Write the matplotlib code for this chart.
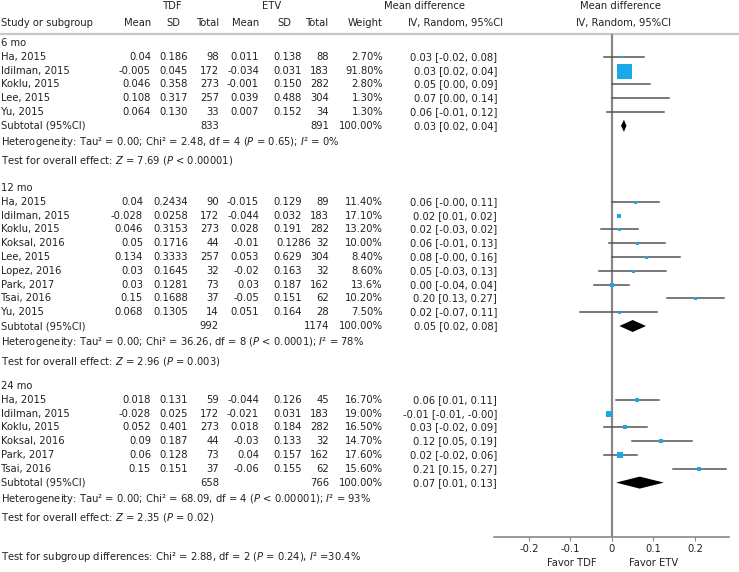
import numpy as np
import matplotlib
matplotlib.use('Agg')
import matplotlib.pyplot as plt

# Datos de la figura

grupos = ['6 mo', '12 mo', '24 mo']

estudios = [
    ['Ha, 2015', 'Idilman, 2015', 'Koklu, 2015', 'Lee, 2015', 'Yu, 2015'],
    ['Ha, 2015', 'Idilman, 2015', 'Koklu, 2015', 'Koksal, 2016', 'Lee, 2015',
     'Lopez, 2016', 'Park, 2017', 'Tsai, 2016', 'Yu, 2015'],
    ['Ha, 2015', 'Idilman, 2015', 'Koklu, 2015', 'Koksal, 2016', 'Park, 2017', 'Tsai, 2016'],
]

tdf_mean = [
    ['0.04', '-0.005', '0.046', '0.108', '0.064'],
    ['0.04', '-0.028', '0.046', '0.05', '0.134', '0.03', '0.03', '0.15', '0.068'],
    ['0.018', '-0.028', '0.052', '0.09', '0.06', '0.15'],
]
tdf_sd = [
    ['0.186', '0.045', '0.358', '0.317', '0.130'],
    ['0.2434', '0.0258', '0.3153', '0.1716', '0.3333', '0.1645', '0.1281', '0.1688', '0.1305'],
    ['0.131', '0.025', '0.401', '0.187', '0.128', '0.151'],
]
tdf_n = [
    [98, 172, 273, 257, 33],
    [90, 172, 273, 44, 257, 32, 73, 37, 14],
    [59, 172, 273, 44, 73, 37],
]
etv_mean = [
    ['0.011', '-0.034', '-0.001', '0.039', '0.007'],
    ['-0.015', '-0.044', '0.028', '-0.01', '0.053', '-0.02', '0.03', '-0.05', '0.051'],
    ['-0.044', '-0.021', '0.018', '-0.03', '0.04', '-0.06'],
]
etv_sd = [
    ['0.138', '0.031', '0.150', '0.488', '0.152'],
    ['0.129', '0.032', '0.191', '0.1286', '0.629', '0.163', '0.187', '0.151', '0.164'],
    ['0.126', '0.031', '0.184', '0.133', '0.157', '0.155'],
]
etv_n = [
    [88, 183, 282, 304, 34],
    [89, 183, 282, 32, 304, 32, 162, 62, 28],
    [45, 183, 282, 32, 162, 62],
]
pesos = [
    ['2.70%', '91.80%', '2.80%', '1.30%', '1.30%'],
    ['11.40%', '17.10%', '13.20%', '10.00%', '8.40%', '8.60%', '13.6%', '10.20%', '7.50%'],
    ['16.70%', '19.00%', '16.50%', '14.70%', '17.60%', '15.60%'],
]
ic_texto = [
    ['0.03 [-0.02, 0.08]', '0.03 [0.02, 0.04]', '0.05 [0.00, 0.09]', '0.07 [0.00, 0.14]', '0.06 [-0.01, 0.12]'],
    ['0.06 [-0.00, 0.11]', '0.02 [0.01, 0.02]', '0.02 [-0.03, 0.02]', '0.06 [-0.01, 0.13]',
     '0.08 [-0.00, 0.16]', '0.05 [-0.03, 0.13]', '0.00 [-0.04, 0.04]', '0.20 [0.13, 0.27]', '0.02 [-0.07, 0.11]'],
    ['0.06 [0.01, 0.11]', '-0.01 [-0.01, -0.00]', '0.03 [-0.02, 0.09]', '0.12 [0.05, 0.19]',
     '0.02 [-0.02, 0.06]', '0.21 [0.15, 0.27]'],
]

# puntos dibujados (estimados del grafico)
est = [
    [0.027, 0.029, 0.05, 0.068, 0.06],
    [0.055, 0.016, 0.018, 0.06, 0.081, 0.051, 0.0, 0.2, 0.016],
    [0.061, -0.008, 0.032, 0.119, 0.019, 0.21],
]
lo = [
    [-0.019, 0.029, 0.001, 0.0, -0.011],
    [0.0, 0.016, -0.027, -0.007, 0.0, -0.031, -0.042, 0.132, -0.077],
    [0.011, -0.008, -0.019, 0.049, -0.019, 0.148],
]
hi = [
    [0.077, 0.029, 0.092, 0.138, 0.125],
    [0.114, 0.016, 0.062, 0.128, 0.163, 0.131, 0.042, 0.269, 0.108],
    [0.113, -0.008, 0.085, 0.192, 0.06, 0.274],
]

sub_tdf = [833, 992, 658]
sub_etv = [891, 1174, 766]
sub_ic = ['0.03 [0.02, 0.04]', '0.05 [0.02, 0.08]', '0.07 [0.01, 0.13]']
sub_est = [0.029, 0.05, 0.067]
sub_lo = [0.022, 0.018, 0.01]
sub_hi = [0.035, 0.082, 0.125]

heterog = [
    'Heterogeneity: Tau² = 0.00; Chi² = 2.48, df = 4 ($\\mathit{P}$ = 0.65); $\\mathit{I}$² = 0%',
    'Heterogeneity: Tau² = 0.00; Chi² = 36.26, df = 8 ($\\mathit{P}$ < 0.0001); $\\mathit{I}$² = 78%',
    'Heterogeneity: Tau² = 0.00; Chi² = 68.09, df = 4 ($\\mathit{P}$ < 0.00001); $\\mathit{I}$² = 93%',
]
efecto = [
    'Test for overall effect: $\\mathit{Z}$ = 7.69 ($\\mathit{P}$ < 0.00001)',
    'Test for overall effect: $\\mathit{Z}$ = 2.96 ($\\mathit{P}$ = 0.003)',
    'Test for overall effect: $\\mathit{Z}$ = 2.35 ($\\mathit{P}$ = 0.02)',
]
subgrupos = 'Test for subgroup differences: Chi² = 2.88, df = 2 ($\\mathit{P}$ = 0.24), $\\mathit{I}$² =30.4%'

ticks = [-0.2, -0.1, 0, 0.1, 0.2]
tick_labels = ['-0.2', '-0.1', '0', '0.1', '0.2']

# Estilo / posiciones (pixeles)

# lado de los cuadrados en pixeles
lado = [
    [2, 15, 1, 2, 1],
    [3, 5, 3, 3, 3, 3, 4, 3, 3],
    [4, 6, 4, 4, 6, 4],
]
inicio_grupo = [43, 188, 386]
borde_media_tdf = [151, 143, 151]   # el bloque de 12 mo esta corrido
paso = 13.8
fs = 8
col = '#222222'
azul = '#1aa9e8'

plt.rcParams['font.family'] = ['DejaVu Sans']
plt.rcParams['font.stretch'] = 'condensed'
plt.rcParams['mathtext.fontset'] = 'dejavusans'

W, H = 739, 572
fig = plt.figure(figsize=(W/100, H/100), dpi=100)

tax = fig.add_axes([0, 0, 1, 1])
tax.set_xlim(0, W)
tax.set_ylim(H, 0)
tax.axis('off')

x0, x1 = 494, 729
fax = fig.add_axes([x0/W, 0, (x1-x0)/W, 1])
fax.set_facecolor('none')
fax.set_ylim(H, 0)
fax.set_xlim(-0.284, 0.282)

def t(x, y, s, ha='left', **kw):
    tax.text(x, y, s, ha=ha, va='center', fontsize=fs, color=col,
             fontstretch='condensed', **kw)

# Cabecera
t(173, 6, 'TDF', ha='center')
t(272, 6, 'ETV', ha='center')
t(424, 6, 'Mean difference', ha='center')
t(621, 6, 'Mean difference', ha='center')
t(1, 23, 'Study or subgroup')
t(151, 23, 'Mean', ha='right')
t(180, 23, 'SD', ha='right')
t(220, 23, 'Total', ha='right')
t(259, 23, 'Mean', ha='right')
t(291, 23, 'SD', ha='right')
t(329, 23, 'Total', ha='right')
t(383, 23, 'Weight', ha='right')
t(455, 23, 'Ⅳ, Random, 95%CI', ha='center')
t(624, 23, 'Ⅳ, Random, 95%CI', ha='center')
tax.plot([0, W], [34, 34], color='#c8c8c8', lw=1.6)

for g in range(len(grupos)):
    y = inicio_grupo[g]
    t(1, y, grupos[g])
    n = len(estudios[g])
    ys = y + 13.8 + paso*np.arange(n)
    for i in range(n):
        yy = ys[i]
        t(1, yy, estudios[g][i])
        t(borde_media_tdf[g], yy, tdf_mean[g][i], ha='right')
        t(188, yy, tdf_sd[g][i], ha='right')
        t(219, yy, str(tdf_n[g][i]), ha='right')
        t(259, yy, etv_mean[g][i], ha='right')
        x_sd = 311 if len(etv_sd[g][i]) > 5 else 302
        t(x_sd, yy, etv_sd[g][i], ha='right')
        t(329, yy, str(etv_n[g][i]), ha='right')
        t(383, yy, pesos[g][i], ha='right')
        t(497, yy, ic_texto[g][i], ha='right')
        fax.plot([lo[g][i], hi[g][i]], [yy, yy], color='#555555', lw=1.1, zorder=2)
        fax.plot(est[g][i], yy, marker='s', ms=lado[g][i]*0.72, color=azul,
                 mec=azul, mew=0, zorder=3)
    ysub = ys[-1] + paso
    t(1, ysub, 'Subtotal (95%CI)')
    t(219, ysub, str(sub_tdf[g]), ha='right')
    t(329, ysub, str(sub_etv[g]), ha='right')
    t(383, ysub, '100.00%', ha='right')
    t(497, ysub, sub_ic[g], ha='right')
    hd = 6
    fax.fill([sub_lo[g], sub_est[g], sub_hi[g], sub_est[g]],
             [ysub, ysub-hd, ysub, ysub+hd], color='black', zorder=3, lw=0)
    t(1, ysub + 16, heterog[g])
    t(1, ysub + 35, efecto[g])

t(1, 557, subgrupos)

# Eje y linea del cero
fax.vlines(0, 34, 537, color='#888888', lw=1.6, zorder=1)
for s in ['top', 'left', 'right']:
    fax.spines[s].set_visible(False)
fax.spines['bottom'].set_position(('data', 537))
fax.spines['bottom'].set_color('#888888')
fax.spines['bottom'].set_linewidth(1.2)
fax.set_yticks([])
fax.set_xticks(ticks)
fax.set_xticklabels(tick_labels)
fax.tick_params(axis='x', length=3, color='#888888', labelsize=fs, labelcolor=col, pad=2)

t(572, 563, 'Favor TDF', ha='center')
t(654, 563, 'Favor ETV', ha='center')

plt.savefig('out.png', dpi=100)
